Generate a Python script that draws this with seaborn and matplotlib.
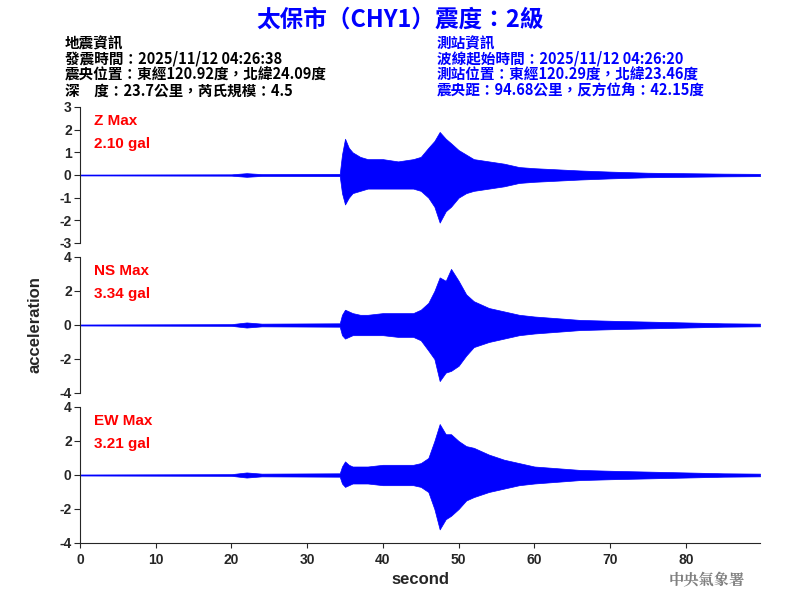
import numpy as np
import matplotlib
matplotlib.use("Agg")
import matplotlib.pyplot as plt
import seaborn as sns

sns.set_style("ticks")
plt.rcParams['font.family'] = ['Noto Sans CJK TC', 'DejaVu Sans']

# envelope: time (s), upper and lower amplitude (gal)
t = [0, 20, 22, 24, 34.3, 34.6, 35.0, 35.5, 36, 37, 38, 40, 42, 44, 45, 46, 46.8, 47.5, 48.3, 49, 50, 51, 52, 54, 56, 58, 60, 63, 66, 70, 75, 80, 85, 89.8]
z_up = [0.02, 0.03, 0.08, 0.04, 0.05, 0.9, 1.6, 1.2, 1.0, 0.8, 0.7, 0.7, 0.6, 0.7, 0.8, 1.2, 1.5, 1.9, 1.6, 1.4, 1.1, 0.9, 0.7, 0.6, 0.5, 0.35, 0.3, 0.25, 0.2, 0.15, 0.1, 0.08, 0.06, 0.05]
z_lo = [0.02, 0.03, 0.08, 0.04, 0.05, 0.8, 1.3, 1.0, 0.8, 0.7, 0.6, 0.6, 0.6, 0.6, 0.7, 1.0, 1.4, 2.1, 1.6, 1.4, 1.0, 0.8, 0.7, 0.6, 0.5, 0.35, 0.3, 0.25, 0.2, 0.15, 0.1, 0.08, 0.06, 0.05]
ns_up = [0.03, 0.05, 0.15, 0.08, 0.1, 0.6, 0.9, 0.8, 0.7, 0.6, 0.6, 0.7, 0.7, 0.7, 0.9, 1.3, 2.0, 2.8, 2.6, 3.3, 2.6, 1.8, 1.4, 1.0, 0.8, 0.6, 0.5, 0.4, 0.3, 0.25, 0.2, 0.15, 0.1, 0.08]
ns_lo = [0.03, 0.05, 0.15, 0.08, 0.1, 0.6, 0.8, 0.7, 0.6, 0.6, 0.6, 0.6, 0.7, 0.7, 0.9, 1.5, 2.0, 3.3, 2.8, 2.7, 2.4, 1.8, 1.3, 1.0, 0.8, 0.6, 0.5, 0.4, 0.3, 0.25, 0.2, 0.15, 0.1, 0.08]
ew_up = [0.03, 0.05, 0.15, 0.08, 0.1, 0.5, 0.8, 0.6, 0.5, 0.5, 0.5, 0.6, 0.6, 0.6, 0.7, 1.0, 2.0, 3.0, 2.4, 2.4, 2.0, 1.7, 1.6, 1.2, 0.9, 0.7, 0.5, 0.4, 0.3, 0.25, 0.2, 0.15, 0.1, 0.08]
ew_lo = [0.03, 0.05, 0.15, 0.08, 0.1, 0.5, 0.7, 0.6, 0.5, 0.5, 0.5, 0.6, 0.6, 0.6, 0.7, 1.0, 2.0, 3.2, 2.6, 2.4, 2.0, 1.5, 1.3, 1.0, 0.8, 0.6, 0.5, 0.4, 0.3, 0.25, 0.2, 0.15, 0.1, 0.08]

panels = [("Z Max", "2.10 gal", z_up, z_lo, 3, [-3, -2, -1, 0, 1, 2, 3]),
          ("NS Max", "3.34 gal", ns_up, ns_lo, 4, [-4, -2, 0, 2, 4]),
          ("EW Max", "3.21 gal", ew_up, ew_lo, 4, [-4, -2, 0, 2, 4])]

fig = plt.figure(figsize=(8, 6), dpi=100)
tops = [107, 257, 407]
for i, (name, val, up, lo, lim, ticks) in enumerate(panels):
    ax = fig.add_axes([80/800, 1 - (tops[i] + 136)/600, 680/800, 136/600])
    ax.fill_between(t, up, -np.array(lo), color='blue', lw=0.5)
    ax.axhline(0, color='black', lw=0.6, zorder=0)
    ax.set_xlim(0, 89.8)
    ax.set_ylim(-lim, lim)
    ax.set_yticks(ticks)
    ax.set_yticklabels([str(v) for v in ticks], family='Liberation Sans', fontsize=10, fontweight='bold')
    ax.tick_params(axis='y', length=4, pad=2)
    sns.despine(ax=ax, top=True, right=True, bottom=(i < 2))
    ax.text(0.02, 0.95, name, transform=ax.transAxes, color='red', fontsize=11, va='top', family='Liberation Sans', fontweight='bold')
    ax.text(0.02, 0.78, val, transform=ax.transAxes, color='red', fontsize=11, va='top', family='Liberation Sans', fontweight='bold')
    if i < 2:
        ax.set_xticks([])
    else:
        ax.set_xticks(range(0, 90, 10))
        ax.set_xticklabels([str(v) for v in range(0, 90, 10)], family='Liberation Sans', fontsize=10, fontweight='bold')
        ax.set_xlabel("second", fontsize=12, family='Liberation Sans', fontweight='bold')

fig.text(35/800, 1 - 325/600, "acceleration", rotation=90, ha='center', va='center', fontsize=12, fontweight='bold', family='Liberation Sans')
fig.text(400/800, 1 - 20/600, "太保市（CHY1）震度：2級", color='blue', ha='center', va='center', fontsize=17, fontweight='bold')

left = ["地震資訊", "發震時間：2025/11/12 04:26:38", "震央位置：東經120.92度，北緯24.09度", "深　度：23.7公里，芮氏規模：4.5"]
right = ["測站資訊", "波線起始時間：2025/11/12 04:26:20", "測站位置：東經120.29度，北緯23.46度", "震央距：94.68公里，反方位角：42.15度"]
for k in range(4):
    y = 1 - (43 + 16 * k) / 600
    fig.text(65/800, y, left[k], color='black', fontsize=10.5, fontweight='bold', va='center')
    fig.text(437/800, y, right[k], color='blue', fontsize=10.5, fontweight='bold', va='center')

fig.text(745/800, 1 - 580/600, "中央氣象署", color='gray', ha='right', va='center', fontsize=11, fontweight='bold', family=['Noto Serif CJK TC', 'Noto Sans CJK TC'])

fig.savefig("out.png", dpi=100)
